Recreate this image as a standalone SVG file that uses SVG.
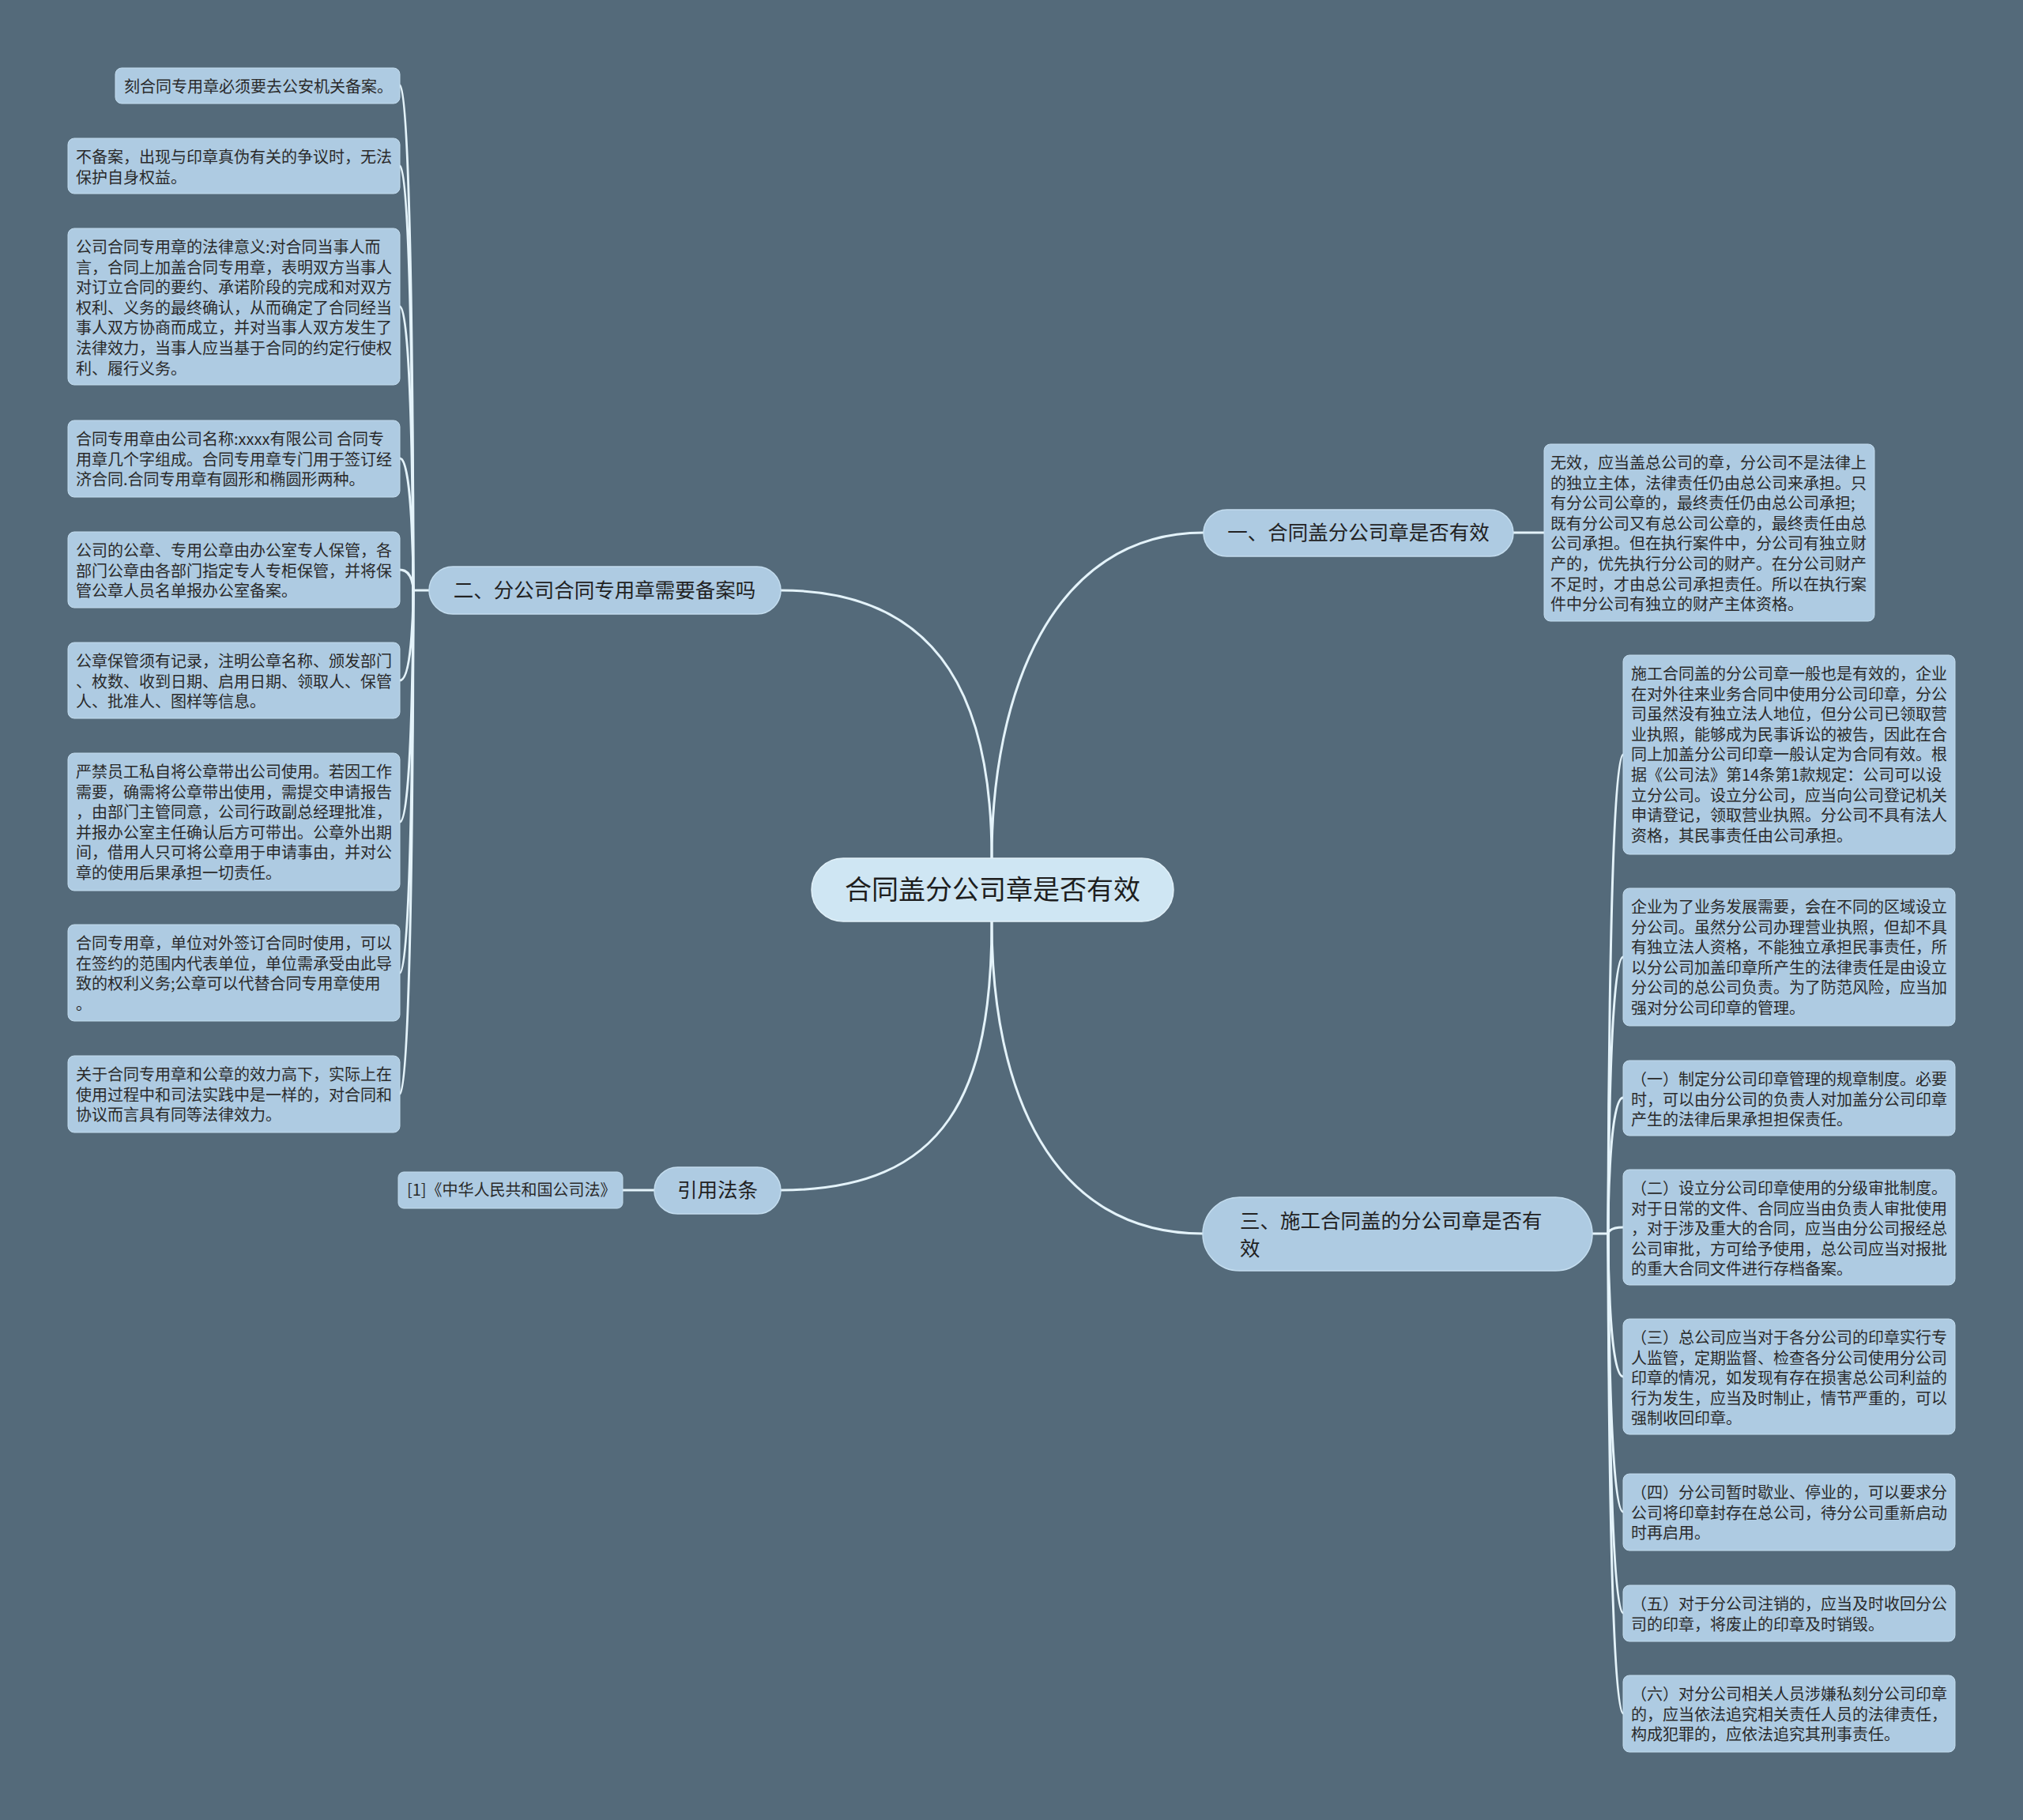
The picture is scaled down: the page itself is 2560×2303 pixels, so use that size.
<svg xmlns="http://www.w3.org/2000/svg" width="2560" height="2303" viewBox="0 0 2560 2303">
<style>
.bg{fill:#546a7a}
.leaf{fill:#aecbe2;stroke:#c3dcee;stroke-width:1}
.branch{fill:#aecbe2;stroke:#c3dcee;stroke-width:1.5}
.root{fill:#cfe6f3;stroke:#e2f1f9;stroke-width:1.5}
.lt{font-family:"Noto Sans CJK SC","Noto Sans",sans-serif;font-size:20px;fill:#2a2a2a}
.bt{font-family:"Noto Sans CJK SC","Noto Sans",sans-serif;font-size:25.5px;fill:#222}
.rt{font-family:"Noto Sans CJK SC","Noto Sans",sans-serif;font-size:34px;fill:#1e1e1e}
.ln{fill:none;stroke:#e4f3fa;stroke-width:3;stroke-linecap:round}
</style>
<rect class="bg" x="0" y="0" width="2560" height="2303"/>
<g id="connectors">
  <path class="ln" d="M1255 1086 C1255 900 1200 747 988 747"/>
  <path class="ln" d="M1255 1086 C1255 880 1330 674 1523 674"/>
  <path class="ln" d="M1255 1166 C1255 1380 1330 1561 1522 1561"/>
  <path class="ln" d="M1255 1166 C1255 1380 1200 1506 988 1506"/>
  <path class="ln" d="M1915 674 L1954 674"/>
  <path class="ln" d="M828 1506 L788 1506"/>
  <path class="ln" d="M543 747 L523 747"/>
  <path class="ln" d="M506 108 C523 108 523 747 523 747"/>
  <path class="ln" d="M506 210 C523 210 523 747 523 747"/>
  <path class="ln" d="M506 388 C523 388 523 747 523 747"/>
  <path class="ln" d="M506 580 C523 580 523 747 523 747"/>
  <path class="ln" d="M506 721 C523 721 523 747 523 747"/>
  <path class="ln" d="M506 861 C523 861 523 747 523 747"/>
  <path class="ln" d="M506 1040 C523 1040 523 747 523 747"/>
  <path class="ln" d="M506 1231 C523 1231 523 747 523 747"/>
  <path class="ln" d="M506 1384 C523 1384 523 747 523 747"/>
  <path class="ln" d="M2015 1561 L2035 1561"/>
  <path class="ln" d="M2054 955 C2035 955 2035 1561 2035 1561"/>
  <path class="ln" d="M2054 1211 C2035 1211 2035 1561 2035 1561"/>
  <path class="ln" d="M2054 1389 C2035 1389 2035 1561 2035 1561"/>
  <path class="ln" d="M2054 1553 C2035 1553 2035 1561 2035 1561"/>
  <path class="ln" d="M2054 1742 C2035 1742 2035 1561 2035 1561"/>
  <path class="ln" d="M2054 1913 C2035 1913 2035 1561 2035 1561"/>
  <path class="ln" d="M2054 2041 C2035 2041 2035 1561 2035 1561"/>
  <path class="ln" d="M2054 2168 C2035 2168 2035 1561 2035 1561"/>
</g>
<g id="root">
  <rect class="root" x="1027" y="1086" width="458" height="80" rx="40"/>
  <text class="rt" x="1256" y="1138" text-anchor="middle">合同盖分公司章是否有效</text>
</g>
<g id="b1">
  <rect class="branch" x="1523" y="645" width="392" height="59" rx="29.5"/>
  <text class="bt" x="1719" y="683" text-anchor="middle">一、合同盖分公司章是否有效</text>
</g>
<g id="b2">
  <rect class="branch" x="543" y="717" width="445" height="60" rx="30"/>
  <text class="bt" x="765" y="756" text-anchor="middle">二、分公司合同专用章需要备案吗</text>
</g>
<g id="b3">
  <rect class="branch" x="1522" y="1515" width="493" height="93" rx="46.5"/>
  <text class="bt" x="1569" y="1554">三、施工合同盖的分公司章是否有</text>
  <text class="bt" x="1569" y="1589">效</text>
</g>
<g id="b4">
  <rect class="branch" x="828" y="1477" width="160" height="59" rx="29.5"/>
  <text class="bt" x="908" y="1515" text-anchor="middle">引用法条</text>
</g>
<g id="ref1">
  <rect class="leaf" x="504" y="1483" width="284" height="46" rx="7"/>
  <text class="lt" x="515" y="1513">[1]《中华人民共和国公司法》</text>
</g>
<g id="a1">
  <rect class="leaf" x="1954" y="562" width="418" height="224" rx="8"/>
  <text class="lt" x="1962" y="593">
    <tspan x="1962" dy="0">无效，应当盖总公司的章，分公司不是法律上</tspan>
    <tspan x="1962" dy="25.6">的独立主体，法律责任仍由总公司来承担。只</tspan>
    <tspan x="1962" dy="25.6">有分公司公章的，最终责任仍由总公司承担;</tspan>
    <tspan x="1962" dy="25.6">既有分公司又有总公司公章的，最终责任由总</tspan>
    <tspan x="1962" dy="25.6">公司承担。但在执行案件中，分公司有独立财</tspan>
    <tspan x="1962" dy="25.6">产的，优先执行分公司的财产。在分公司财产</tspan>
    <tspan x="1962" dy="25.6">不足时，才由总公司承担责任。所以在执行案</tspan>
    <tspan x="1962" dy="25.6">件中分公司有独立的财产主体资格。</tspan>
  </text>
</g>
<g id="l1">
  <rect class="leaf" x="146" y="86" width="360" height="45" rx="8"/>
  <text class="lt" x="157" y="117">刻合同专用章必须要去公安机关备案。</text>
</g>
<g id="l2">
  <rect class="leaf" x="86" y="175" width="420" height="70" rx="8"/>
  <text class="lt" y="206">
    <tspan x="96" dy="0">不备案，出现与印章真伪有关的争议时，无法</tspan>
    <tspan x="96" dy="25.6">保护自身权益。</tspan>
  </text>
</g>
<g id="l3">
  <rect class="leaf" x="86" y="289" width="420" height="198" rx="8"/>
  <text class="lt" y="320">
    <tspan x="96" dy="0">公司合同专用章的法律意义:对合同当事人而</tspan>
    <tspan x="96" dy="25.6">言，合同上加盖合同专用章，表明双方当事人</tspan>
    <tspan x="96" dy="25.6">对订立合同的要约、承诺阶段的完成和对双方</tspan>
    <tspan x="96" dy="25.6">权利、义务的最终确认，从而确定了合同经当</tspan>
    <tspan x="96" dy="25.6">事人双方协商而成立，并对当事人双方发生了</tspan>
    <tspan x="96" dy="25.6">法律效力，当事人应当基于合同的约定行使权</tspan>
    <tspan x="96" dy="25.6">利、履行义务。</tspan>
  </text>
</g>
<g id="l4">
  <rect class="leaf" x="86" y="532" width="420" height="97" rx="8"/>
  <text class="lt" y="563">
    <tspan x="96" dy="0">合同专用章由公司名称:xxxx有限公司 合同专</tspan>
    <tspan x="96" dy="25.6">用章几个字组成。合同专用章专门用于签订经</tspan>
    <tspan x="96" dy="25.6">济合同.合同专用章有圆形和椭圆形两种。</tspan>
  </text>
</g>
<g id="l5">
  <rect class="leaf" x="86" y="673" width="420" height="96" rx="8"/>
  <text class="lt" y="704">
    <tspan x="96" dy="0">公司的公章、专用公章由办公室专人保管，各</tspan>
    <tspan x="96" dy="25.6">部门公章由各部门指定专人专柜保管，并将保</tspan>
    <tspan x="96" dy="25.6">管公章人员名单报办公室备案。</tspan>
  </text>
</g>
<g id="l6">
  <rect class="leaf" x="86" y="813" width="420" height="96" rx="8"/>
  <text class="lt" y="844">
    <tspan x="96" dy="0">公章保管须有记录，注明公章名称、颁发部门</tspan>
    <tspan x="96" dy="25.6">、枚数、收到日期、启用日期、领取人、保管</tspan>
    <tspan x="96" dy="25.6">人、批准人、图样等信息。</tspan>
  </text>
</g>
<g id="l7">
  <rect class="leaf" x="86" y="953" width="420" height="174" rx="8"/>
  <text class="lt" y="984">
    <tspan x="96" dy="0">严禁员工私自将公章带出公司使用。若因工作</tspan>
    <tspan x="96" dy="25.6">需要，确需将公章带出使用，需提交申请报告</tspan>
    <tspan x="96" dy="25.6">，由部门主管同意，公司行政副总经理批准，</tspan>
    <tspan x="96" dy="25.6">并报办公室主任确认后方可带出。公章外出期</tspan>
    <tspan x="96" dy="25.6">间，借用人只可将公章用于申请事由，并对公</tspan>
    <tspan x="96" dy="25.6">章的使用后果承担一切责任。</tspan>
  </text>
</g>
<g id="l8">
  <rect class="leaf" x="86" y="1170" width="420" height="122" rx="8"/>
  <text class="lt" y="1201">
    <tspan x="96" dy="0">合同专用章，单位对外签订合同时使用，可以</tspan>
    <tspan x="96" dy="25.6">在签约的范围内代表单位，单位需承受由此导</tspan>
    <tspan x="96" dy="25.6">致的权利义务;公章可以代替合同专用章使用</tspan>
    <tspan x="96" dy="25.6">。</tspan>
  </text>
</g>
<g id="l9">
  <rect class="leaf" x="86" y="1336" width="420" height="97" rx="8"/>
  <text class="lt" y="1367">
    <tspan x="96" dy="0">关于合同专用章和公章的效力高下，实际上在</tspan>
    <tspan x="96" dy="25.6">使用过程中和司法实践中是一样的，对合同和</tspan>
    <tspan x="96" dy="25.6">协议而言具有同等法律效力。</tspan>
  </text>
</g>
<g id="r1">
  <rect class="leaf" x="2054" y="829" width="420" height="252" rx="8"/>
  <text class="lt" y="860">
    <tspan x="2064" dy="0">施工合同盖的分公司章一般也是有效的，企业</tspan>
    <tspan x="2064" dy="25.6">在对外往来业务合同中使用分公司印章，分公</tspan>
    <tspan x="2064" dy="25.6">司虽然没有独立法人地位，但分公司已领取营</tspan>
    <tspan x="2064" dy="25.6">业执照，能够成为民事诉讼的被告，因此在合</tspan>
    <tspan x="2064" dy="25.6">同上加盖分公司印章一般认定为合同有效。根</tspan>
    <tspan x="2064" dy="25.6">据《公司法》第14条第1款规定：公司可以设</tspan>
    <tspan x="2064" dy="25.6">立分公司。设立分公司，应当向公司登记机关</tspan>
    <tspan x="2064" dy="25.6">申请登记，领取营业执照。分公司不具有法人</tspan>
    <tspan x="2064" dy="25.6">资格，其民事责任由公司承担。</tspan>
  </text>
</g>
<g id="r2">
  <rect class="leaf" x="2054" y="1124" width="420" height="174" rx="8"/>
  <text class="lt" y="1155">
    <tspan x="2064" dy="0">企业为了业务发展需要，会在不同的区域设立</tspan>
    <tspan x="2064" dy="25.6">分公司。虽然分公司办理营业执照，但却不具</tspan>
    <tspan x="2064" dy="25.6">有独立法人资格，不能独立承担民事责任，所</tspan>
    <tspan x="2064" dy="25.6">以分公司加盖印章所产生的法律责任是由设立</tspan>
    <tspan x="2064" dy="25.6">分公司的总公司负责。为了防范风险，应当加</tspan>
    <tspan x="2064" dy="25.6">强对分公司印章的管理。</tspan>
  </text>
</g>
<g id="r3">
  <rect class="leaf" x="2054" y="1342" width="420" height="95" rx="8"/>
  <text class="lt" y="1373">
    <tspan x="2064" dy="0">（一）制定分公司印章管理的规章制度。必要</tspan>
    <tspan x="2064" dy="25.6">时，可以由分公司的负责人对加盖分公司印章</tspan>
    <tspan x="2064" dy="25.6">产生的法律后果承担担保责任。</tspan>
  </text>
</g>
<g id="r4">
  <rect class="leaf" x="2054" y="1480" width="420" height="146" rx="8"/>
  <text class="lt" y="1511">
    <tspan x="2064" dy="0">（二）设立分公司印章使用的分级审批制度。</tspan>
    <tspan x="2064" dy="25.6">对于日常的文件、合同应当由负责人审批使用</tspan>
    <tspan x="2064" dy="25.6">，对于涉及重大的合同，应当由分公司报经总</tspan>
    <tspan x="2064" dy="25.6">公司审批，方可给予使用，总公司应当对报批</tspan>
    <tspan x="2064" dy="25.6">的重大合同文件进行存档备案。</tspan>
  </text>
</g>
<g id="r5">
  <rect class="leaf" x="2054" y="1669" width="420" height="146" rx="8"/>
  <text class="lt" y="1700">
    <tspan x="2064" dy="0">（三）总公司应当对于各分公司的印章实行专</tspan>
    <tspan x="2064" dy="25.6">人监管，定期监督、检查各分公司使用分公司</tspan>
    <tspan x="2064" dy="25.6">印章的情况，如发现有存在损害总公司利益的</tspan>
    <tspan x="2064" dy="25.6">行为发生，应当及时制止，情节严重的，可以</tspan>
    <tspan x="2064" dy="25.6">强制收回印章。</tspan>
  </text>
</g>
<g id="r6">
  <rect class="leaf" x="2054" y="1865" width="420" height="97" rx="8"/>
  <text class="lt" y="1896">
    <tspan x="2064" dy="0">（四）分公司暂时歇业、停业的，可以要求分</tspan>
    <tspan x="2064" dy="25.6">公司将印章封存在总公司，待分公司重新启动</tspan>
    <tspan x="2064" dy="25.6">时再启用。</tspan>
  </text>
</g>
<g id="r7">
  <rect class="leaf" x="2054" y="2006" width="420" height="71" rx="8"/>
  <text class="lt" y="2037">
    <tspan x="2064" dy="0">（五）对于分公司注销的，应当及时收回分公</tspan>
    <tspan x="2064" dy="25.6">司的印章，将废止的印章及时销毁。</tspan>
  </text>
</g>
<g id="r8">
  <rect class="leaf" x="2054" y="2120" width="420" height="97" rx="8"/>
  <text class="lt" y="2151">
    <tspan x="2064" dy="0">（六）对分公司相关人员涉嫌私刻分公司印章</tspan>
    <tspan x="2064" dy="25.6">的，应当依法追究相关责任人员的法律责任，</tspan>
    <tspan x="2064" dy="25.6">构成犯罪的，应依法追究其刑事责任。</tspan>
  </text>
</g>
</svg>
